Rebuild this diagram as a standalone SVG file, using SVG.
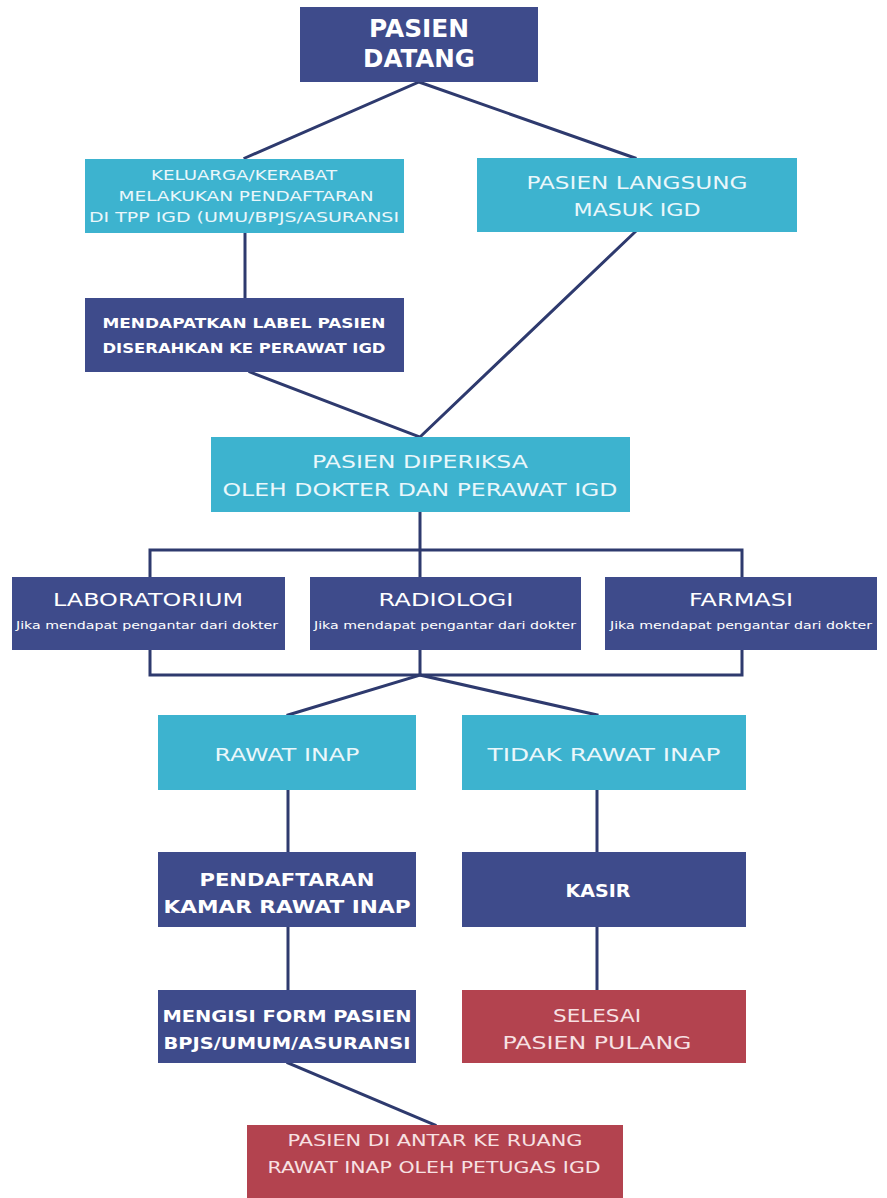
<svg xmlns="http://www.w3.org/2000/svg" width="887" height="1198" viewBox="0 0 887 1198">
<style>
.dk{fill:#3e4b8b}
.tl{fill:#3db3cf}
.rd{fill:#b3434f}
text{font-family:"DejaVu Sans","Liberation Sans",sans-serif;text-anchor:middle}
.b{fill:#ffffff;font-weight:bold}
.l{fill:#eaf7fb;font-weight:normal}
.r{fill:#f7e1e3;font-weight:normal}
.s{fill:#ffffff;font-weight:normal}
.c{fill:none;stroke:#2e3a6e;stroke-width:3;stroke-linecap:square}
</style>
<rect width="887" height="1198" fill="#ffffff"/>
<g id="connectors">
<path class="c" d="M419 82 L245 158 M419 82 L635 158"/>
<path class="c" d="M245 233 L245 298"/>
<path class="c" d="M635 232 L420 437 M250 372 L420 437"/>
<path class="c" d="M420 512 L420 577 M150 577 L150 550 L742 550 L742 577"/>
<path class="c" d="M150 650 L150 675 L742 675 L742 650 M420 650 L420 675"/>
<path class="c" d="M420 675 L288 715 M420 675 L597 715"/>
<path class="c" d="M288 790 L288 852 M597 790 L597 852"/>
<path class="c" d="M288 927 L288 990 M597 927 L597 990"/>
<path class="c" d="M288 1063 L435 1125"/>
</g>
<g id="n1"><rect class="dk" x="300" y="7" width="238" height="75"/>
<text class="b" x="419" y="37" font-size="24" textLength="100" lengthAdjust="spacingAndGlyphs">PASIEN</text>
<text class="b" x="419" y="67" font-size="24" textLength="112" lengthAdjust="spacingAndGlyphs">DATANG</text></g>
<g id="n2"><rect class="tl" x="85" y="159" width="319" height="74"/>
<text class="l" x="244" y="180" font-size="13.5" textLength="186" lengthAdjust="spacingAndGlyphs">KELUARGA/KERABAT</text>
<text class="l" x="246" y="201" font-size="13.5" textLength="255" lengthAdjust="spacingAndGlyphs">MELAKUKAN PENDAFTARAN</text>
<text class="l" x="244" y="222" font-size="13.5" textLength="310" lengthAdjust="spacingAndGlyphs">DI TPP IGD (UMU/BPJS/ASURANSI</text></g>
<g id="n3"><rect class="tl" x="477" y="158" width="320" height="74"/>
<text class="l" x="637" y="189" font-size="17" textLength="221" lengthAdjust="spacingAndGlyphs">PASIEN LANGSUNG</text>
<text class="l" x="637" y="216" font-size="17" textLength="127" lengthAdjust="spacingAndGlyphs">MASUK IGD</text></g>
<g id="n4"><rect class="dk" x="85" y="298" width="319" height="74"/>
<text class="b" x="244" y="328" font-size="14" textLength="283" lengthAdjust="spacingAndGlyphs">MENDAPATKAN LABEL PASIEN</text>
<text class="b" x="244" y="353" font-size="14" textLength="283" lengthAdjust="spacingAndGlyphs">DISERAHKAN KE PERAWAT IGD</text></g>
<g id="n5"><rect class="tl" x="211" y="437" width="419" height="75"/>
<text class="l" x="420" y="468" font-size="18" textLength="216" lengthAdjust="spacingAndGlyphs">PASIEN DIPERIKSA</text>
<text class="l" x="420" y="496" font-size="18" textLength="395" lengthAdjust="spacingAndGlyphs">OLEH DOKTER DAN PERAWAT IGD</text></g>
<g id="n6"><rect class="dk" x="12" y="577" width="273" height="73"/>
<text class="s" x="148" y="606" font-size="18" textLength="190" lengthAdjust="spacingAndGlyphs">LABORATORIUM</text>
<text class="s" x="147" y="629" font-size="10" textLength="262" lengthAdjust="spacingAndGlyphs">Jika mendapat pengantar dari dokter</text></g>
<g id="n7"><rect class="dk" x="310" y="577" width="271" height="73"/>
<text class="s" x="446" y="606" font-size="18" textLength="135" lengthAdjust="spacingAndGlyphs">RADIOLOGI</text>
<text class="s" x="445" y="629" font-size="10" textLength="262" lengthAdjust="spacingAndGlyphs">Jika mendapat pengantar dari dokter</text></g>
<g id="n8"><rect class="dk" x="605" y="577" width="272" height="73"/>
<text class="s" x="741" y="606" font-size="18" textLength="104" lengthAdjust="spacingAndGlyphs">FARMASI</text>
<text class="s" x="741" y="629" font-size="10" textLength="262" lengthAdjust="spacingAndGlyphs">Jika mendapat pengantar dari dokter</text></g>
<g id="n9"><rect class="tl" x="158" y="715" width="258" height="75"/>
<text class="l" x="287" y="761" font-size="17" textLength="145" lengthAdjust="spacingAndGlyphs">RAWAT INAP</text></g>
<g id="n10"><rect class="tl" x="462" y="715" width="284" height="75"/>
<text class="l" x="604" y="761" font-size="17" textLength="233" lengthAdjust="spacingAndGlyphs">TIDAK RAWAT INAP</text></g>
<g id="n11"><rect class="dk" x="158" y="852" width="258" height="75"/>
<text class="b" x="287" y="886" font-size="17" textLength="175" lengthAdjust="spacingAndGlyphs">PENDAFTARAN</text>
<text class="b" x="287" y="913" font-size="17" textLength="247" lengthAdjust="spacingAndGlyphs">KAMAR RAWAT INAP</text></g>
<g id="n12"><rect class="dk" x="462" y="852" width="284" height="75"/>
<text class="b" x="598" y="897" font-size="17" textLength="65" lengthAdjust="spacingAndGlyphs">KASIR</text></g>
<g id="n13"><rect class="dk" x="158" y="990" width="258" height="73"/>
<text class="b" x="287" y="1022" font-size="15" textLength="249" lengthAdjust="spacingAndGlyphs">MENGISI FORM PASIEN</text>
<text class="b" x="287" y="1049" font-size="15" textLength="247" lengthAdjust="spacingAndGlyphs">BPJS/UMUM/ASURANSI</text></g>
<g id="n14"><rect class="rd" x="462" y="990" width="284" height="73"/>
<text class="r" x="597" y="1022" font-size="17" textLength="88" lengthAdjust="spacingAndGlyphs">SELESAI</text>
<text class="r" x="597" y="1049" font-size="17" textLength="189" lengthAdjust="spacingAndGlyphs">PASIEN PULANG</text></g>
<g id="n15"><rect class="rd" x="247" y="1125" width="376" height="73"/>
<text class="r" x="435" y="1146" font-size="15" textLength="295" lengthAdjust="spacingAndGlyphs">PASIEN DI ANTAR KE RUANG</text>
<text class="r" x="434" y="1173" font-size="15" textLength="333" lengthAdjust="spacingAndGlyphs">RAWAT INAP OLEH PETUGAS IGD</text></g>
</svg>
